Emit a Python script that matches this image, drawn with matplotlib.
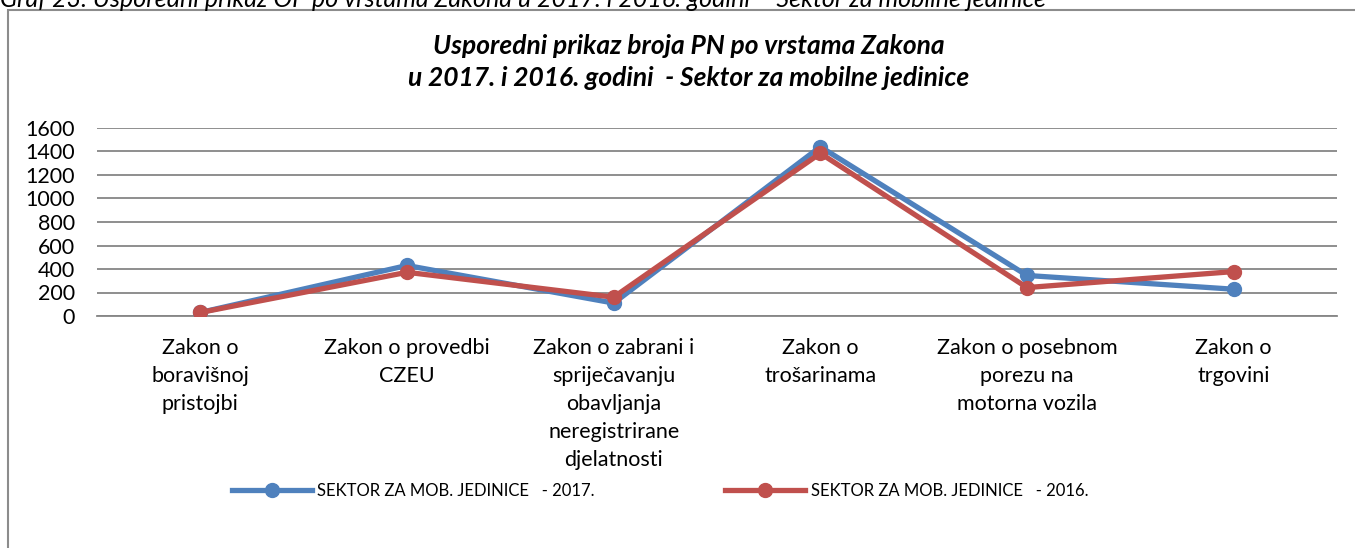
import numpy as np
import matplotlib.pyplot as plt
from matplotlib.patches import Rectangle

plt.rcParams['font.family'] = ['Lato', 'DejaVu Sans']

# Data
categories = [
    'Zakon o\nboravišnoj\npristojbi',
    'Zakon o provedbi\nCZEU',
    'Zakon o zabrani i\nspriječavanju\nobavljanja\nneregistrirane\ndjelatnosti',
    'Zakon o\ntrošarinama',
    'Zakon o posebnom\nporezu na\nmotorna vozila',
    'Zakon o\ntrgovini',
]
values_2017 = [30, 430, 110, 1440, 345, 228]
values_2016 = [30, 372, 160, 1385, 242, 378]
label_2017 = 'SEKTOR ZA MOB. JEDINICE   - 2017.'
label_2016 = 'SEKTOR ZA MOB. JEDINICE   - 2016.'
yticks = [0, 200, 400, 600, 800, 1000, 1200, 1400, 1600]

W, H = 1355, 548
fig = plt.figure(figsize=(W / 100, H / 100), dpi=100)

# outer frame of the chart object (cut off at right and bottom)
fig.patches.append(Rectangle((8 / W, -0.05), 1.1, 1 - 10 / H + 0.05,
                             transform=fig.transFigure, fill=False,
                             edgecolor='#8c8c8c', linewidth=1.5))

# document caption, mostly cropped off the top
fig.text(0, 1 - 7 / H,
         'Graf 23. Usporedni prikaz OP po vrstama Zakona u 2017. i 2016. godini \u2013 Sektor za mobilne jedinice',
         fontsize=18, style='italic', ha='left', va='baseline', color='black')

ax = fig.add_axes([97 / W, (H - 316) / H, 1240 / W, 188 / H])

x = np.arange(len(categories))
ax.plot(x, values_2017, color='#4F81BD', lw=3.8, marker='o', ms=10,
        label=label_2017, solid_joinstyle='round', zorder=3)
ax.plot(x, values_2016, color='#C0504D', lw=3.8, marker='o', ms=10,
        label=label_2016, solid_joinstyle='round', zorder=4)

ax.set_xlim(-0.5, len(categories) - 0.5)
ax.set_ylim(0, 1600)
ax.set_yticks(yticks)
ax.set_xticks(x)
ax.set_xticklabels(categories, fontsize=15.5, linespacing=1.5, va='top')
ax.tick_params(axis='both', length=0, labelsize=15.5)
ax.tick_params(axis='y', pad=16)
ax.tick_params(axis='x', pad=16)
ax.grid(axis='y', color='#868686', lw=1.3)
ax.set_axisbelow(True)
for s in ['top', 'left', 'right']:
    ax.spines[s].set_visible(False)
ax.spines['bottom'].set_color('#868686')
ax.spines['bottom'].set_linewidth(1.3)

fig.text(0.508, (H - 46) / H, 'Usporedni prikaz broja PN po vrstama Zakona',
         fontsize=19, weight='bold', style='italic', ha='center', va='center')
fig.text(0.508, (H - 78) / H, 'u 2017. i 2016. godini  - Sektor za mobilne jedinice',
         fontsize=19, weight='bold', style='italic', ha='center', va='center')

fig.legend(loc='center', bbox_to_anchor=(0.487, (H - 491) / H), ncol=2,
           frameon=False, fontsize=12, handlelength=4.8, handletextpad=0.35,
           columnspacing=7.8)

fig.savefig('out.png', dpi=100)
